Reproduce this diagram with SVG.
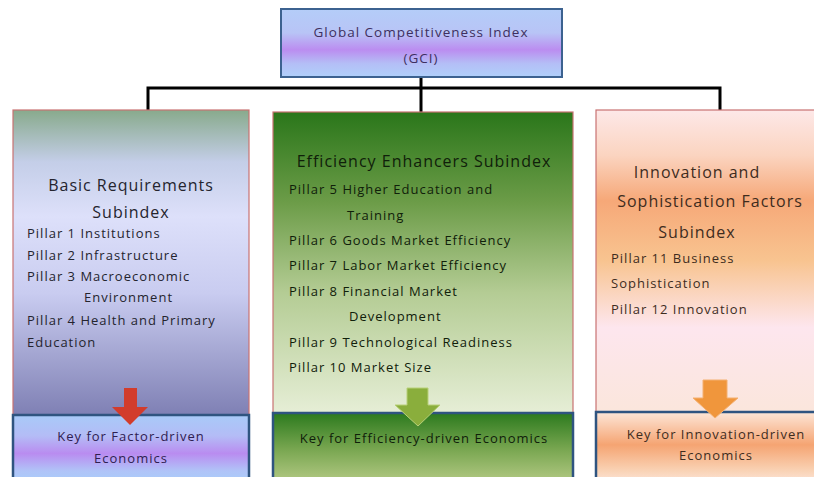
<svg xmlns="http://www.w3.org/2000/svg" width="814" height="477" viewBox="0 0 814 477">
<defs>
<linearGradient id="gBlue" x1="0" y1="0" x2="0" y2="1">
<stop offset="0" stop-color="#b4cdf8"/>
<stop offset="0.35" stop-color="#b8c4f6"/>
<stop offset="0.6" stop-color="#bb8df0"/>
<stop offset="0.8" stop-color="#b4bef6"/>
<stop offset="1" stop-color="#b0d0fa"/>
</linearGradient>
<linearGradient id="gKeyBlue" x1="0" y1="0" x2="0" y2="1">
<stop offset="0" stop-color="#a8caf8"/>
<stop offset="0.3" stop-color="#b4bcf6"/>
<stop offset="0.55" stop-color="#b98cf0"/>
<stop offset="0.8" stop-color="#b0c4f8"/>
<stop offset="1" stop-color="#a8d0fa"/>
</linearGradient>
<linearGradient id="gLeft" x1="0" y1="0" x2="0" y2="1">
<stop offset="0" stop-color="#88aa8c"/>
<stop offset="0.17" stop-color="#c4cee8"/>
<stop offset="0.35" stop-color="#dde0fa"/>
<stop offset="0.6" stop-color="#c9ccf0"/>
<stop offset="1" stop-color="#7f80b4"/>
</linearGradient>
<linearGradient id="gMid" x1="0" y1="0" x2="0" y2="1">
<stop offset="0" stop-color="#2a761a"/>
<stop offset="0.3" stop-color="#6c9c48"/>
<stop offset="0.6" stop-color="#b4cc94"/>
<stop offset="1" stop-color="#e6eed6"/>
</linearGradient>
<linearGradient id="gKeyMid" x1="0" y1="0" x2="0" y2="1">
<stop offset="0" stop-color="#2c7a1e"/>
<stop offset="0.5" stop-color="#78a650"/>
<stop offset="1" stop-color="#b8cc88"/>
</linearGradient>
<linearGradient id="gRight" x1="0" y1="0" x2="0" y2="1">
<stop offset="0" stop-color="#fde8e8"/>
<stop offset="0.15" stop-color="#fbd4c0"/>
<stop offset="0.3" stop-color="#f6a878"/>
<stop offset="0.5" stop-color="#f8c490"/>
<stop offset="0.72" stop-color="#fde6ee"/>
<stop offset="1" stop-color="#fbe6dc"/>
</linearGradient>
<linearGradient id="gKeyRight" x1="0" y1="0" x2="0" y2="1">
<stop offset="0" stop-color="#fde6d8"/>
<stop offset="0.45" stop-color="#f5a472"/>
<stop offset="0.8" stop-color="#f9d2b4"/>
<stop offset="1" stop-color="#fde8e0"/>
</linearGradient>
</defs>
<style>
.main{stroke:#c87272;stroke-width:1.2}
.key{stroke:#2f5480;stroke-width:2.5}
.t{font-family:"Open Sans","DejaVu Sans",sans-serif;letter-spacing:1px}
.head{font-size:16px}
.item{font-size:13px}
.conn{fill:none;stroke:#000;stroke-width:3}
</style>
<rect width="814" height="477" fill="#ffffff"/>

<g id="connectors">
<path class="conn" d="M148,111 V88 H720 V111"/>
<path class="conn" d="M421,77 V112"/>
</g>

<g id="gci">
<rect x="281" y="9" width="281" height="68" fill="url(#gBlue)" stroke="#3c6290" stroke-width="2"/>
<text class="t" x="421" y="37" font-size="13.5" fill="#3e2f60" text-anchor="middle">Global Competitiveness  Index</text>
<text class="t" x="421" y="63" font-size="13.5" fill="#3e2f60" text-anchor="middle">(GCI)</text>
</g>

<g id="basic">
<rect class="main" x="13" y="110" width="236" height="305" fill="url(#gLeft)"/>
<g class="t" fill="#24242e">
<text class="head" x="131" y="191" text-anchor="middle">Basic Requirements</text>
<text class="head" x="131" y="218" text-anchor="middle">Subindex</text>
<text class="item" x="27" y="238">Pillar 1 Institutions</text>
<text class="item" x="27" y="260">Pillar 2 Infrastructure</text>
<text class="item" x="27" y="281">Pillar 3 Macroeconomic</text>
<text class="item" x="84" y="302">Environment</text>
<text class="item" x="27" y="325">Pillar 4 Health and Primary</text>
<text class="item" x="27" y="347">Education</text>
</g>
</g>

<g id="basic-key">
<rect class="key" x="13" y="415" width="236" height="70" fill="url(#gKeyBlue)"/>
<text class="t item" x="131" y="441" fill="#2e2050" text-anchor="middle">Key for Factor-driven</text>
<text class="t item" x="131" y="463" fill="#2e2050" text-anchor="middle">Economics</text>
</g>

<g id="efficiency">
<rect class="main" x="273" y="112" width="300" height="301" fill="url(#gMid)"/>
<g class="t" fill="#10200a">
<text class="head" x="424" y="167" text-anchor="middle">Efficiency Enhancers Subindex</text>
<text class="item" x="289" y="194">Pillar  5 Higher  Education and</text>
<text class="item" x="347" y="220">Training</text>
<text class="item" x="289" y="245">Pillar  6 Goods Market Efficiency</text>
<text class="item" x="289" y="270">Pillar  7 Labor Market Efficiency</text>
<text class="item" x="289" y="296">Pillar  8 Financial Market</text>
<text class="item" x="349" y="321">Development</text>
<text class="item" x="289" y="347">Pillar  9 Technological Readiness</text>
<text class="item" x="289" y="372">Pillar  10 Market Size</text>
</g>
</g>

<g id="efficiency-key">
<rect class="key" x="273" y="413" width="300" height="72" fill="url(#gKeyMid)"/>
<text class="t item" x="424" y="443" fill="#10200a" text-anchor="middle">Key for Efficiency-driven Economics</text>
</g>

<g id="innovation">
<rect class="main" x="596" y="110" width="230" height="302" fill="url(#gRight)"/>
<g class="t" fill="#3e2c1e">
<text class="head" x="697" y="178" text-anchor="middle">Innovation and</text>
<text class="head" x="710" y="207" text-anchor="middle">Sophistication Factors</text>
<text class="head" x="697" y="238" text-anchor="middle">Subindex</text>
<text class="item" x="611" y="263">Pillar 11 Business</text>
<text class="item" x="611" y="288">Sophistication</text>
<text class="item" x="611" y="314">Pillar 12 Innovation</text>
</g>
</g>

<g id="innovation-key">
<rect class="key" x="596" y="412" width="230" height="73" fill="url(#gKeyRight)"/>
<text class="t item" x="716" y="439" fill="#3e2c1e" text-anchor="middle">Key for Innovation-driven</text>
<text class="t item" x="716" y="460" fill="#3e2c1e" text-anchor="middle">Economics</text>
</g>

<g id="arrows">
<path d="M124,388 H137 V407 H148 L130,425 L112,407 H124 Z" fill="#d23c2c"/>
<path d="M407,388 H428 V405 H440 L418,426 L395,405 H407 Z" fill="#8aae3c" stroke="#b8d078" stroke-width="1"/>
<path d="M703,380 H727 V398 H738 L715,418 L693,398 H703 Z" fill="#f0963c" stroke="#f4b070" stroke-width="1"/>
</g>
</svg>
